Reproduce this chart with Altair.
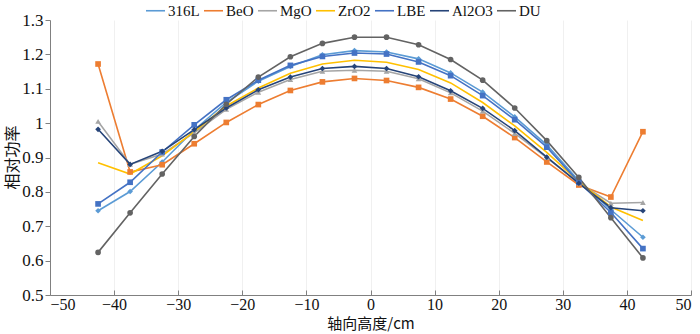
import altair as alt
import pandas as pd

# ---- data ----
heights = [-42.5, -37.5, -32.5, -27.5, -22.5, -17.5, -12.5, -7.5, -2.5,
           2.5, 7.5, 12.5, 17.5, 22.5, 27.5, 32.5, 37.5, 42.5]

series_names = ["316L", "BeO", "MgO", "ZrO2", "LBE", "Al2O3", "DU"]

v_316L = [0.745, 0.801, 0.887, 0.980, 1.060, 1.122, 1.165, 1.199, 1.211,
          1.207, 1.187, 1.146, 1.090, 1.018, 0.937, 0.832, 0.748, 0.668]
v_BeO = [1.172, 0.858, 0.879, 0.940, 1.002, 1.054, 1.095, 1.120, 1.130,
         1.124, 1.104, 1.070, 1.020, 0.958, 0.887, 0.820, 0.785, 0.975]
v_MgO = [1.005, 0.880, 0.910, 0.972, 1.040, 1.090, 1.127, 1.151, 1.154,
         1.151, 1.129, 1.088, 1.035, 0.970, 0.900, 0.826, 0.767, 0.769]
v_ZrO2 = [0.885, 0.852, 0.905, 0.975, 1.050, 1.102, 1.145, 1.172, 1.183,
          1.177, 1.156, 1.117, 1.060, 0.992, 0.915, 0.830, 0.756, 0.717]
v_LBE = [0.765, 0.828, 0.916, 0.995, 1.068, 1.125, 1.168, 1.194, 1.204,
         1.201, 1.178, 1.138, 1.080, 1.010, 0.930, 0.828, 0.740, 0.635]
v_Al2O3 = [0.982, 0.880, 0.918, 0.981, 1.044, 1.097, 1.134, 1.159, 1.165,
           1.159, 1.135, 1.094, 1.043, 0.978, 0.901, 0.825, 0.754, 0.745]
v_DU = [0.624, 0.739, 0.852, 0.961, 1.055, 1.134, 1.193, 1.232, 1.250,
        1.250, 1.228, 1.185, 1.125, 1.044, 0.949, 0.842, 0.725, 0.608]

all_values = [v_316L, v_BeO, v_MgO, v_ZrO2, v_LBE, v_Al2O3, v_DU]

colors = ["#5B9BD5", "#ED7D31", "#A5A5A5", "#FFC000", "#4472C4", "#264478", "#636363"]
marker_series = ["316L", "BeO", "MgO", "LBE", "Al2O3", "DU"]
marker_shapes = ["diamond", "square", "triangle-up", "square", "diamond", "circle"]

rows = []
for si, (name, vals) in enumerate(zip(series_names, all_values)):
    for h, v in zip(heights, vals):
        rows.append({"series": name, "order": si, "x": h, "y": v})
df = pd.DataFrame(rows)

serif = "Liberation Serif, Times New Roman, DejaVu Serif, serif"
cjk = "Noto Sans CJK SC"

y_enc = alt.Y("y:Q",
              scale=alt.Scale(domain=[0.5, 1.3], nice=False, zero=False),
              axis=alt.Axis(values=[0.5, 0.6, 0.7, 0.8, 0.9, 1.0, 1.1, 1.2, 1.3],
                            format="~g", title="相对功率", titleFont=cjk,
                            titleFontSize=16, titleFontWeight="normal",
                            titleColor="#111111", titleX=-38, titleY=137,
                            titleAngle=270, titleAlign="center", titleBaseline="middle",
                            labelFont=serif, labelFontSize=17, labelColor="#111111",
                            labelPadding=2, tickSize=5, tickColor="#808080",
                            domainColor="#808080", grid=False))

x_main = alt.X("x:Q",
               scale=alt.Scale(domain=[-50, 50], nice=False),
               axis=alt.Axis(values=list(range(-50, 51, 10)), title="轴向高度/cm",
                             titleFont=cjk, titleFontSize=15, titleFontWeight="normal",
                             titleColor="#111111", titleY=28, titleBaseline="middle",
                             labelFont=serif, labelFontSize=16, labelColor="#111111",
                             labelPadding=1, ticks=False, domainColor="#808080",
                             grid=True, gridColor="#F0F0F0"))

x_ticks = alt.X("x:Q",
                scale=alt.Scale(domain=[-50, 50], nice=False),
                axis=alt.Axis(orient="top", offset=-275, values=list(range(-50, 51, 10)),
                              labels=False, domain=False, title=None, ticks=True,
                              tickSize=5, tickColor="#808080", grid=False))

lines = alt.Chart(df).mark_line(strokeWidth=1.6).encode(
    x=x_main,
    y=y_enc,
    color=alt.Color("series:N",
                    scale=alt.Scale(domain=series_names, range=colors),
                    legend=alt.Legend(title=None, orient="none", direction="horizontal",
                                      columns=7, legendX=95, legendY=-20,
                                      symbolType="stroke", symbolSize=361,
                                      symbolStrokeWidth=1.6, labelFont=serif,
                                      labelFontSize=15, labelColor="#111111",
                                      labelOffset=2, columnPadding=0)),
    detail="series:N",
    order=alt.Order("order:Q"),
)

points = alt.Chart(df).transform_filter(
    alt.datum.series != "ZrO2"
).mark_point(filled=True, opacity=1, size=32).encode(
    x=x_ticks,
    y=y_enc,
    fill=alt.Fill("series:N",
                  scale=alt.Scale(domain=series_names, range=colors),
                  legend=None),
    shape=alt.Shape("series:N",
                    scale=alt.Scale(domain=marker_series, range=marker_shapes),
                    legend=None),
)

chart = alt.layer(lines, points).resolve_axis(x="independent").resolve_scale(
    fill="independent", shape="independent"
).properties(
    width=641, height=275,
    padding={"left": 50, "top": 20, "right": 9, "bottom": 39},
    autosize=alt.AutoSizeParams(type="none"),
    background="white",
).configure_view(stroke=None)

chart.save("out.html", embed_options={"renderer": "svg", "actions": False})
